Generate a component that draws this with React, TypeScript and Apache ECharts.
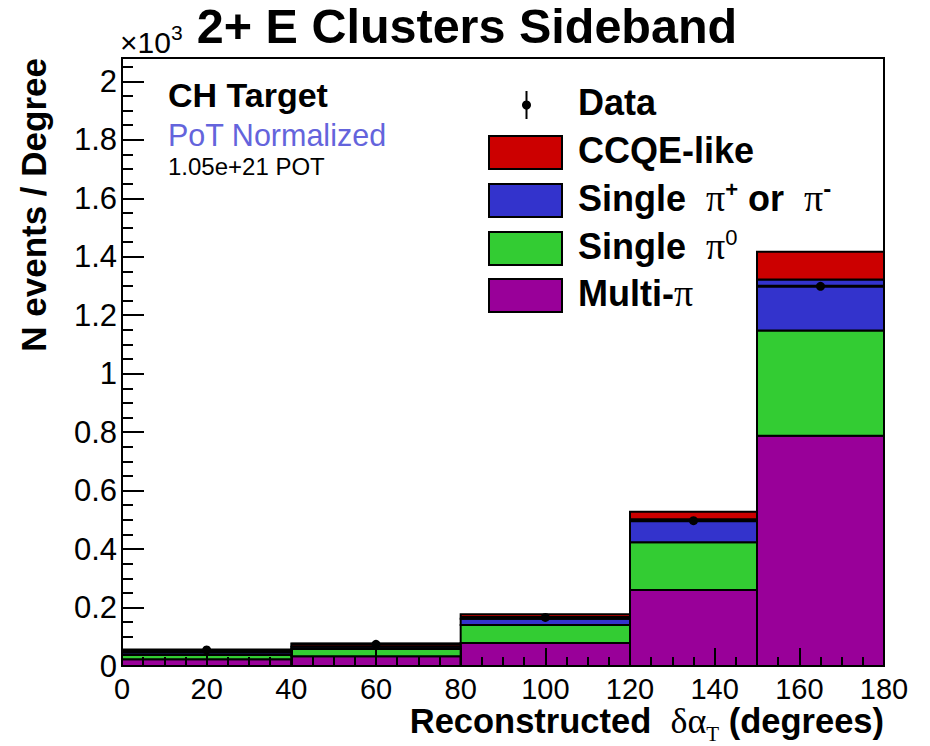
import React, { useEffect, useRef } from "react";
import * as echarts from "echarts";

// ---- data (events per degree) ----
const binEdges = [0, 40, 80, 120, 150, 180];
const multiPi = [23, 33, 79, 260, 788];
const singlePi0 = [15, 25, 61, 163, 360];
const singlePiCharged = [8, 8, 22, 79, 174];
const ccqeLike = [6, 11, 15, 26, 95];
const dataValues = [55, 74, 166, 497, 1299];

const xTicks = { min: 0, max: 180, interval: 20 };
const yTicks = { min: 0, max: 2080, interval: 200 };

const SANS = "'Liberation Sans', Arial, Helvetica, sans-serif";
const SERIF = "'Liberation Serif', 'Times New Roman', serif";

const COLORS = {
  ccqe: "#cc0000",
  piC: "#3333cc",
  pi0: "#33cc33",
  multi: "#990099",
};

type Part = {
  text: string;
  size: number;
  bold?: boolean;
  serif?: boolean;
  dy?: number;
  color?: string;
};

let measureCtx: CanvasRenderingContext2D | null = null;
function fontOf(p: Part) {
  return `${p.bold ? "bold " : ""}${p.size}px ${p.serif ? SERIF : SANS}`;
}
function measure(p: Part) {
  if (!measureCtx) {
    const c = document.createElement("canvas");
    measureCtx = c.getContext("2d");
  }
  if (!measureCtx) return p.text.length * p.size * 0.55;
  measureCtx.font = fontOf(p);
  return measureCtx.measureText(p.text).width;
}

function textRun(
  x: number,
  baseline: number,
  parts: Part[],
  align: "left" | "right" | "center" = "left"
) {
  const widths = parts.map(measure);
  const total = widths.reduce((a, b) => a + b, 0);
  let cx = align === "left" ? x : align === "right" ? x - total : x - total / 2;
  const els: any[] = [];
  parts.forEach((p, i) => {
    const k = p.serif ? 0.3375 : 0.3465;
    els.push({
      type: "text",
      x: cx,
      y: baseline + (p.dy || 0) - k * p.size,
      z: 100,
      style: {
        text: p.text,
        fontSize: p.size,
        fontWeight: p.bold ? "bold" : "normal",
        fontFamily: p.serif ? SERIF : SANS,
        fill: p.color || "#000",
        align: "left",
        verticalAlign: "middle",
      },
    });
    cx += widths[i];
  });
  return els;
}

function stackRects(layer: number) {
  const layers = [multiPi, singlePi0, singlePiCharged, ccqeLike];
  return binEdges.slice(0, -1).map((lo, i) => {
    let bottom = 0;
    for (let l = 0; l < layer; l++) bottom += layers[l][i];
    const top = bottom + layers[layer][i];
    return [lo, binEdges[i + 1], bottom, top];
  });
}

function rectSeries(name: string, layer: number, color: string) {
  return {
    type: "custom",
    name,
    z: 2,
    data: stackRects(layer),
    encode: { x: [0, 1], y: [2, 3] },
    renderItem: (params: any, api: any) => {
      const p0 = api.coord([api.value(0), api.value(3)]);
      const p1 = api.coord([api.value(1), api.value(2)]);
      return {
        type: "rect",
        shape: { x: p0[0], y: p0[1], width: p1[0] - p0[0], height: p1[1] - p0[1] },
        style: { fill: color, stroke: "#000", lineWidth: 2 },
      };
    },
  };
}

export default function App() {
  const ref = useRef<HTMLDivElement>(null);
  useEffect(() => {
    if (!ref.current) return;
    const chart = echarts.init(ref.current, undefined, { renderer: "svg" });

    const dataPoints = dataValues.map((v, i) => [
      binEdges[i],
      binEdges[i + 1],
      v,
      (binEdges[i] + binEdges[i + 1]) / 2,
    ]);

    const graphics: any[] = [];
    // title
    graphics.push(
      ...textRun(467, 43, [{ text: "2+ E Clusters Sideband", size: 48.5, bold: true }], "center")
    );
    // x10^3
    graphics.push(
      ...textRun(120, 53, [
        { text: "×10", size: 30 },
        { text: "3", size: 21, dy: -13 },
      ])
    );
    // annotations
    graphics.push(...textRun(168, 107, [{ text: "CH Target", size: 34, bold: true }]));
    graphics.push(
      ...textRun(168, 146, [{ text: "PoT Normalized", size: 30.5, color: "#6464dc" }])
    );
    graphics.push(...textRun(168, 175, [{ text: "1.05e+21 POT", size: 24 }]));

    // y axis title (rotated)
    graphics.push({
      type: "text",
      x: 33,
      y: 58,
      rotation: Math.PI / 2,
      z: 100,
      style: {
        text: "N events / Degree",
        fontSize: 35,
        fontWeight: "bold",
        fontFamily: SANS,
        fill: "#000",
        align: "right",
        verticalAlign: "middle",
      },
    });

    // x axis title
    graphics.push(
      ...textRun(
        884,
        733,
        [
          { text: "Reconstructed  ", size: 34.5, bold: true },
          { text: "δα", size: 36, serif: true },
          { text: "T", size: 21, serif: true, dy: 8 },
          { text: " (degrees)", size: 34.5, bold: true },
        ],
        "right"
      )
    );

    // legend
    const legX = 489;
    const legW = 73;
    const legH = 33;
    const textX = 578;
    graphics.push({
      type: "line",
      z: 100,
      shape: { x1: 526.5, y1: 91, x2: 526.5, y2: 119 },
      style: { stroke: "#000", lineWidth: 2 },
    });
    graphics.push({
      type: "circle",
      z: 100,
      shape: { cx: 526.5, cy: 105, r: 4.5 },
      style: { fill: "#000" },
    });
    graphics.push(...textRun(textX, 115, [{ text: "Data", size: 36, bold: true }]));

    const legendRows: { color: string; top: number; parts: Part[] }[] = [
      { color: COLORS.ccqe, top: 136, parts: [{ text: "CCQE-like", size: 36, bold: true }] },
      {
        color: COLORS.piC,
        top: 184,
        parts: [
          { text: "Single  ", size: 36, bold: true },
          { text: "π", size: 38, serif: true },
          { text: "+", size: 22, bold: true, dy: -14 },
          { text: " or  ", size: 36, bold: true },
          { text: "π", size: 38, serif: true },
          { text: "-", size: 24, bold: true, dy: -14 },
        ],
      },
      {
        color: COLORS.pi0,
        top: 232,
        parts: [
          { text: "Single  ", size: 36, bold: true },
          { text: "π", size: 38, serif: true },
          { text: "0", size: 22, dy: -14 },
        ],
      },
      {
        color: COLORS.multi,
        top: 279,
        parts: [
          { text: "Multi-", size: 36, bold: true },
          { text: "π", size: 38, serif: true },
        ],
      },
    ];
    legendRows.forEach((r) => {
      graphics.push({
        type: "rect",
        z: 100,
        shape: { x: legX, y: r.top, width: legW, height: legH },
        style: { fill: r.color, stroke: "#000", lineWidth: 2 },
      });
      graphics.push(...textRun(textX, r.top + 27, r.parts));
    });

    const option: any = {
      animation: false,
      backgroundColor: "#fff",
      grid: {
        left: 122,
        right: 46,
        top: 58,
        bottom: 80,
        show: true,
        borderColor: "#000",
        borderWidth: 2,
        backgroundColor: "transparent",
        containLabel: false,
      },
      xAxis: {
        type: "value",
        min: xTicks.min,
        max: xTicks.max,
        interval: xTicks.interval,
        z: 10,
        axisLine: { show: true, onZero: false, lineStyle: { color: "#000", width: 2 } },
        axisTick: { show: true, inside: true, length: 18, lineStyle: { color: "#000", width: 2 } },
        minorTick: { show: true, splitNumber: 4, length: 9, lineStyle: { color: "#000", width: 2 } },
        axisLabel: { color: "#000", fontSize: 29, fontFamily: SANS, margin: 8 },
        splitLine: { show: false },
      },
      yAxis: {
        type: "value",
        min: yTicks.min,
        max: yTicks.max,
        interval: yTicks.interval,
        z: 10,
        axisLine: { show: true, onZero: false, lineStyle: { color: "#000", width: 2 } },
        axisTick: { show: true, inside: true, length: 22, lineStyle: { color: "#000", width: 2 } },
        minorTick: { show: true, splitNumber: 4, length: 11, lineStyle: { color: "#000", width: 2 } },
        axisLabel: {
          color: "#000",
          fontSize: 31,
          fontFamily: SANS,
          margin: 5,
          formatter: (v: number) => String(Number((v / 1000).toFixed(2))),
        },
        splitLine: { show: false },
      },
      series: [
        rectSeries("Multi-π", 0, COLORS.multi),
        rectSeries("Single π0", 1, COLORS.pi0),
        rectSeries("Single π+ or π-", 2, COLORS.piC),
        rectSeries("CCQE-like", 3, COLORS.ccqe),
        {
          type: "custom",
          name: "Data",
          z: 5,
          data: dataPoints,
          encode: { x: [0, 1], y: 2 },
          renderItem: (params: any, api: any) => {
            const a = api.coord([api.value(0), api.value(2)]);
            const b = api.coord([api.value(1), api.value(2)]);
            const c = api.coord([api.value(3), api.value(2)]);
            return {
              type: "group",
              children: [
                {
                  type: "line",
                  shape: { x1: a[0], y1: a[1], x2: b[0], y2: b[1] },
                  style: { stroke: "#000", lineWidth: 3 },
                },
                {
                  type: "circle",
                  shape: { cx: c[0], cy: c[1], r: 4.5 },
                  style: { fill: "#000" },
                },
              ],
            };
          },
        },
      ],
      graphic: { elements: graphics },
    };
    chart.setOption(option);
    return () => chart.dispose();
  }, []);

  return (
    <div
      ref={ref}
      style={{ position: "fixed", left: 0, top: 0, width: 930, height: 746, background: "#fff" }}
    />
  );
}
